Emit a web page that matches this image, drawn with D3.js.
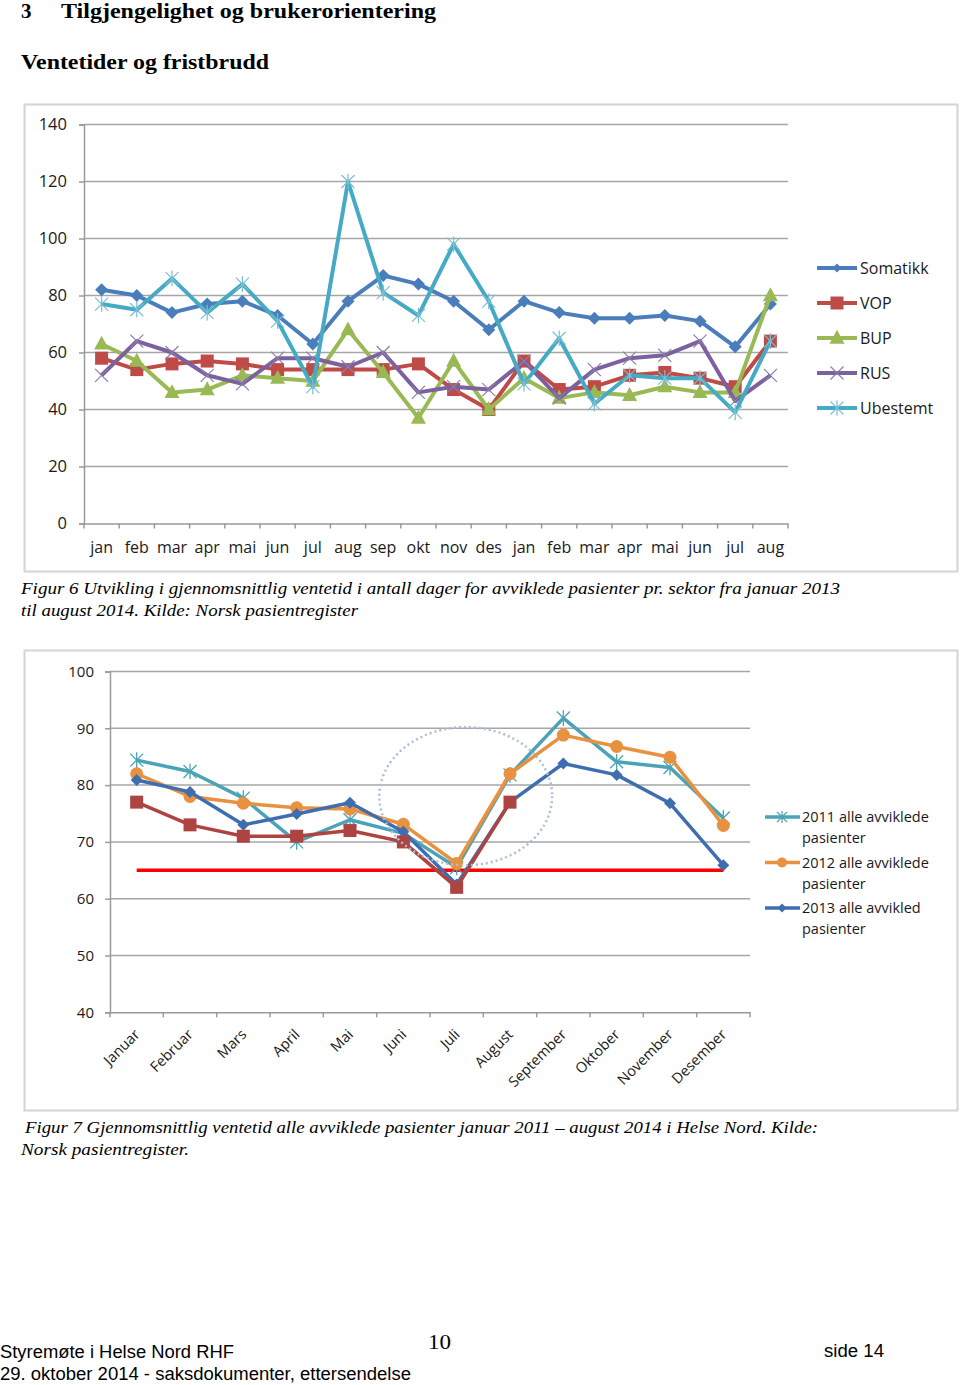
<!DOCTYPE html>
<html><head><meta charset="utf-8">
<script src="https://cdn.jsdelivr.net/npm/d3@7"></script>
<style>
body{margin:0;background:#fff;}
svg{display:block;}
</style></head>
<body>
<svg id="page" width="960" height="1385"></svg>
<script>
// ---------- Data: chart 1 ----------
const months1 = ["jan","feb","mar","apr","mai","jun","jul","aug","sep","okt","nov","des","jan","feb","mar","apr","mai","jun","jul","aug"];
const yTicks1 = [0,20,40,60,80,100,120,140];
const somatikk = [82,80,74,77,78,73,63,78,87,84,78,68,78,74,72,72,73,71,62,77];
const vop      = [58,54,56,57,56,54,54,54,54,56,47,40,57,47,48,52,53,51,48,64];
const bup      = [63,57,46,47,52,51,50,68,53,37,57,40,51,44,46,45,48,46,46,80];
const rus      = [52,64,60,52,49,58,58,55,60,46,48,47,57,44,54,58,59,64,43,52];
const ubestemt = [77,75,86,74,84,71,48,120,81,73,98,78,49,65,42,52,51,51,39,64];
const seriesNames1 = ["Somatikk","VOP","BUP","RUS","Ubestemt"];

// ---------- Data: chart 2 ----------
const months2 = ["Januar","Februar","Mars","April","Mai","Juni","Juli","August","September","Oktober","November","Desember"];
const yTicks2 = [40,50,60,70,80,90,100];
const y2011 = [84.4,82.4,77.7,70,73.9,71.5,65.5,81.8,91.8,84.1,83.1,74.2];
const y2012 = [82,78,76.8,76,75.8,73.1,66.2,82,88.8,86.8,84.9,72.9];
const y2013 = [80.9,78.8,73,74.9,76.9,71.8,62.5,77,83.8,81.8,76.8,65.9];
const y2014 = [77,73,71,71,72,70,62,77,null,null,null,null];
const target = 65;
const legend2 = ["2011 alle avviklede|pasienter","2012 alle avviklede|pasienter","2013 alle avvikled|pasienter"];

// ---------- helpers ----------
const svg = d3.select("#page");
const chartFont = "'Open Sans', 'DejaVu Sans', sans-serif";

function markerPath(type, r){
  switch(type){
    case "diamond": return `M0,${-r}L${r},0L0,${r}L${-r},0Z`;
    case "square": return `M${-r},${-r}h${2*r}v${2*r}h${-2*r}Z`;
    case "triangle": return `M0,${-r*1.1}L${r},${r*0.75}L${-r},${r*0.75}Z`;
    case "x": return `M${-r},${-r}L${r},${r}M${r},${-r}L${-r},${r}`;
    case "star": return `M${-r},${-r}L${r},${r}M${r},${-r}L${-r},${r}M0,${-r*1.2}L0,${r*1.2}`;
    case "circle": return `M${r},0A${r},${r} 0 1,1 ${-r},0A${r},${r} 0 1,1 ${r},0Z`;
  }
}
function isStroke(type){ return type==="x"||type==="star"; }

function drawMarker(g, type, r, color, x, y, sw){
  g.append("path").attr("d", markerPath(type, r))
   .attr("transform", `translate(${x},${y})`)
   .attr("fill", isStroke(type) ? "none" : color)
   .attr("stroke", isStroke(type) ? color : "none")
   .attr("stroke-width", sw || 1.2);
}

function text(t, x, y, opts){
  const e = svg.append("text").attr("x", x).attr("y", y).text(t)
    .attr("font-family", opts.family).attr("font-size", opts.size)
    .attr("fill", opts.fill || "#000");
  if (opts.weight) e.attr("font-weight", opts.weight);
  if (opts.style) e.attr("font-style", opts.style);
  if (opts.len) e.attr("textLength", opts.len).attr("lengthAdjust","spacingAndGlyphs");
  if (opts.anchor) e.attr("text-anchor", opts.anchor);
  return e;
}

// ---------- page text ----------
const serif = "'Liberation Serif', 'DejaVu Serif', serif";
text("3", 21, 18, {family: serif, size: 21, weight: "bold"});
text("Tilgjengelighet og brukerorientering", 61, 18, {family: serif, size: 21, weight: "bold", len: 375});
text("Ventetider og fristbrudd", 21, 69, {family: serif, size: 21, weight: "bold", len: 248});
text("Figur 6 Utvikling i gjennomsnittlig ventetid i antall dager for avviklede pasienter pr. sektor fra januar 2013", 21, 594, {family: serif, size: 17, style: "italic", len: 819});
text("til august 2014. Kilde: Norsk pasientregister", 21, 616, {family: serif, size: 17, style: "italic", len: 337});
text("Figur 7 Gjennomsnittlig ventetid alle avviklede pasienter januar 2011 \u2013 august 2014 i Helse Nord. Kilde:", 25, 1133, {family: serif, size: 17, style: "italic", len: 793});
text("Norsk pasientregister.", 21, 1155, {family: serif, size: 17, style: "italic", len: 168});

const narrow = "'Liberation Sans Narrow', 'Liberation Sans', Arial, sans-serif";
text("Styremøte i Helse Nord RHF", 0, 1358, {family: narrow, size: 18, len: 234});
text("29. oktober 2014 - saksdokumenter, ettersendelse", 0, 1380, {family: narrow, size: 18, len: 411});
text("10", 428, 1349, {family: serif, size: 21, len: 23});
text("side 14", 824, 1357, {family: narrow, size: 18, len: 60});

// ---------- Chart 1 ----------
svg.append("rect").attr("x",24.5).attr("y",104.5).attr("width",933).attr("height",467)
  .attr("fill","#fff").attr("stroke","#d4d4d4").attr("stroke-width",2);

const c1 = {left: 84, right: 788, top: 124.5, bottom: 523.5};
const x1 = d3.scaleBand().domain(d3.range(months1.length)).range([c1.left, c1.right]);
const y1 = d3.scaleLinear().domain([0,140]).range([c1.bottom, c1.top]);
const g1 = svg.append("g");

g1.selectAll("line.grid").data(yTicks1.filter(d=>d>0)).join("line")
  .attr("x1", c1.left).attr("x2", c1.right).attr("y1", d=>y1(d)).attr("y2", d=>y1(d))
  .attr("stroke","#a6a6a6").attr("stroke-width",1.5);

const ya1 = g1.append("g").attr("transform",`translate(${c1.left},0)`)
  .call(d3.axisLeft(y1).tickValues(yTicks1).tickSize(5).tickPadding(12));
ya1.select(".domain").attr("stroke","#9a9a9a").attr("stroke-width",1.5);
ya1.selectAll(".tick line").attr("stroke","#9a9a9a").attr("stroke-width",1.5);
ya1.selectAll(".tick text").attr("font-family",chartFont).attr("font-size",16.5).attr("fill","#1a1a1a");

const xa1 = g1.append("g").attr("transform",`translate(0,${c1.bottom})`)
  .call(d3.axisBottom(x1).tickFormat(i=>months1[i]).tickSize(0).tickPadding(18));
xa1.select(".domain").attr("stroke","#9a9a9a").attr("stroke-width",1.5);
xa1.selectAll(".tick text").attr("font-family",chartFont).attr("font-size",16).attr("fill","#1a1a1a");
g1.selectAll("line.xt").data(d3.range(months1.length+1)).join("line")
  .attr("x1", i=> i<months1.length ? x1(i) : c1.right).attr("x2", i=> i<months1.length ? x1(i) : c1.right)
  .attr("y1", c1.bottom).attr("y2", c1.bottom+5).attr("stroke","#9a9a9a").attr("stroke-width",1.5);

const s1 = [
  {name:"Somatikk", vals:somatikk, color:"#4a7ebb", m:"diamond", r:6.5, mc:"#4a7ebb"},
  {name:"VOP", vals:vop, color:"#be4b48", m:"square", r:6.5, mc:"#be4b48"},
  {name:"BUP", vals:bup, color:"#98b954", m:"triangle", r:7.5, mc:"#98b954"},
  {name:"RUS", vals:rus, color:"#7d60a0", m:"x", r:6.5, mc:"#8a7fa8"},
  {name:"Ubestemt", vals:ubestemt, color:"#46aac5", m:"star", r:6.5, mc:"#7bbfd3"}
];
const cx1 = i => x1(i) + x1.bandwidth()/2;
const line1 = d3.line().x((d,i)=>cx1(i)).y(d=>y1(d));
s1.forEach(s=>{
  g1.append("path").datum(s.vals).attr("d", line1).attr("fill","none")
    .attr("stroke", s.color).attr("stroke-width",4).attr("stroke-linejoin","round");
  s.vals.forEach((v,i)=>drawMarker(g1, s.m, s.r, s.mc, cx1(i), y1(v), 1.2));
});

s1.forEach((s,k)=>{
  const ly = 268 + k*35;
  g1.append("line").attr("x1",817).attr("x2",857).attr("y1",ly).attr("y2",ly)
    .attr("stroke",s.color).attr("stroke-width",4);
  drawMarker(g1, s.m, s.m==="diamond"?4.5:s.r, s.mc, 837, ly, 1.2);
  text(s.name, 860, ly+5.5, {family: chartFont, size: 16, fill:"#1a1a1a"});
});

// ---------- Chart 2 ----------
svg.append("rect").attr("x",24.5).attr("y",650.5).attr("width",933).attr("height",460)
  .attr("fill","#fff").attr("stroke","#d4d4d4").attr("stroke-width",2);

const c2 = {left: 110, right: 750, top: 671.5, bottom: 1012.3};
const x2 = d3.scaleBand().domain(d3.range(months2.length)).range([c2.left, c2.right]);
const y2 = d3.scaleLinear().domain([40,100]).range([c2.bottom, c2.top]);
const g2 = svg.append("g");
const cx2 = i => x2(i) + x2.bandwidth()/2;

g2.selectAll("line.grid").data(yTicks2.filter(d=>d>40)).join("line")
  .attr("x1", c2.left).attr("x2", c2.right).attr("y1", d=>y2(d)).attr("y2", d=>y2(d))
  .attr("stroke","#a6a6a6").attr("stroke-width",1.5);

const ya2 = g2.append("g").attr("transform",`translate(${c2.left},0)`)
  .call(d3.axisLeft(y2).tickValues(yTicks2).tickSize(5).tickPadding(11));
ya2.select(".domain").attr("stroke","#9a9a9a").attr("stroke-width",1.5);
ya2.selectAll(".tick line").attr("stroke","#9a9a9a").attr("stroke-width",1.5);
ya2.selectAll(".tick text").attr("font-family",chartFont).attr("font-size",15).attr("fill","#1a1a1a");

const xa2 = g2.append("g").attr("transform",`translate(0,${c2.bottom})`)
  .call(d3.axisBottom(x2).tickFormat(i=>months2[i]).tickSize(0).tickPadding(0));
xa2.select(".domain").attr("stroke","#9a9a9a").attr("stroke-width",1.5);
xa2.selectAll(".tick text").attr("font-family",chartFont).attr("font-size",14.5).attr("fill","#1a1a1a")
  .attr("text-anchor","end").attr("dy",0).attr("y",0)
  .attr("transform","translate(4,23) rotate(-45)");
g2.selectAll("line.xt").data(d3.range(months2.length+1)).join("line")
  .attr("x1", i=> i<months2.length ? x2(i) : c2.right).attr("x2", i=> i<months2.length ? x2(i) : c2.right)
  .attr("y1", c2.bottom).attr("y2", c2.bottom+5).attr("stroke","#9a9a9a").attr("stroke-width",1.5);

g2.append("line").attr("x1", cx2(0)).attr("x2", cx2(months2.length-1))
  .attr("y1", y2(target)).attr("y2", y2(target)).attr("stroke","#ff0000").attr("stroke-width",3.5);

const s2 = [
  {vals:y2011, color:"#4aa3b6", m:"star", r:6.5},
  {vals:y2012, color:"#e8913e", m:"circle", r:6.5},
  {vals:y2013, color:"#3f6eb0", m:"diamond", r:6},
  {vals:y2014, color:"#ad4442", m:"square", r:6.5}
];
const line2 = d3.line().defined(d=>d!=null).x((d,i)=>cx2(i)).y(d=>y2(d));
s2.forEach(s=>{
  g2.append("path").datum(s.vals).attr("d", line2).attr("fill","none")
    .attr("stroke", s.color).attr("stroke-width",3.5).attr("stroke-linejoin","round");
  s.vals.forEach((v,i)=>{ if(v!=null) drawMarker(g2, s.m, s.r, s.color, cx2(i), y2(v), 1.3); });
});

g2.append("ellipse").attr("cx", cx2(6) + x2.bandwidth()*0.17).attr("cy", (y2(90.2)+y2(65.9))/2)
  .attr("rx", x2.bandwidth()*1.62).attr("ry", (y2(65.9)-y2(90.2))/2)
  .attr("fill","none").attr("stroke","#a9bfd9").attr("stroke-width",2.5).attr("stroke-dasharray","2 3");

s2.slice(0,3).forEach((s,k)=>{
  const ly = 817 + k*45.5;
  g2.append("line").attr("x1",765).attr("x2",800).attr("y1",ly).attr("y2",ly)
    .attr("stroke",s.color).attr("stroke-width",3.5);
  drawMarker(g2, s.m, s.m==="diamond"?4.5:5, s.color, 782, ly, 1.2);
  const parts = legend2[k].split("|");
  text(parts[0], 802, ly+5, {family: chartFont, size: 14.5, fill:"#1a1a1a"});
  text(parts[1], 802, ly+26, {family: chartFont, size: 14.5, fill:"#1a1a1a"});
});
</script>
</body></html>
